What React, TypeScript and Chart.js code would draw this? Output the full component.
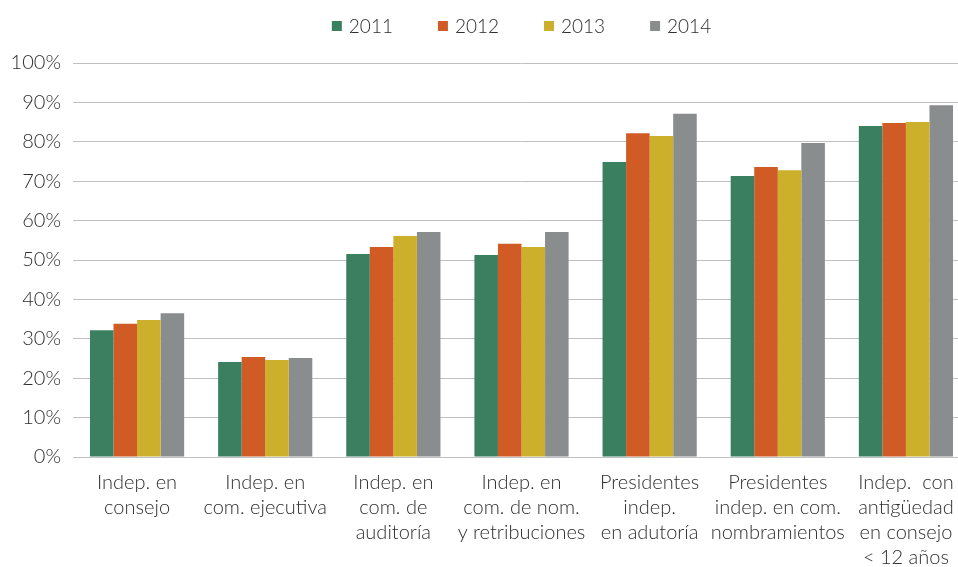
import React, { useEffect, useRef } from "react";
import { Chart, registerables } from "chart.js";

Chart.register(...registerables);

const categories: string[][] = [
  ["Indep. en", "consejo"],
  ["Indep. en", "com. ejecutiva"],
  ["Indep. en", "com. de", "auditoría"],
  ["Indep. en", "com. de nom.", "y retribuciones"],
  ["Presidentes", "indep.", "en adutoría"],
  ["Presidentes", "indep. en com.", "nombramientos"],
  ["Indep.  con", "antigüedad", "en consejo", "< 12 años"],
];

const seriesNames = ["2011", "2012", "2013", "2014"];
const values2011 = [32.2, 24.1, 51.5, 51.3, 74.9, 71.3, 84.0];
const values2012 = [33.8, 25.4, 53.3, 54.1, 82.2, 73.6, 84.8];
const values2013 = [34.8, 24.6, 56.1, 53.3, 81.5, 72.8, 85.0];
const values2014 = [36.5, 25.1, 57.1, 57.1, 87.1, 79.7, 89.3];
const seriesColors = ["#3a7f5f", "#d05b25", "#ccb02c", "#8a8d8d"];
const yTicks = [0, 10, 20, 30, 40, 50, 60, 70, 80, 90, 100];

const FONT = "Lato, 'Open Sans', sans-serif";
const TEXT = "#2e2e2e";

const legendPlugin = {
  id: "topLegend",
  afterDraw(chart: any) {
    const { ctx, chartArea } = chart;
    ctx.save();
    ctx.font = `300 19px ${FONT}`;
    ctx.textBaseline = "middle";
    const box = 10;
    const gap = 7;
    const spacing = 45;
    const items = chart.data.datasets.map((d: any) => ({
      label: d.label,
      color: d.backgroundColor,
      w: box + gap + ctx.measureText(d.label).width,
    }));
    const total = items.reduce((s: number, it: any) => s + it.w, 0) + spacing * (items.length - 1);
    let x = (chartArea.left + chartArea.right) / 2 - total / 2;
    const y = 26;
    items.forEach((it: any) => {
      ctx.fillStyle = it.color;
      ctx.fillRect(x, y - box / 2, box, box);
      ctx.fillStyle = TEXT;
      ctx.textAlign = "left";
      ctx.fillText(it.label, x + box + gap, y + 1);
      x += it.w + spacing;
    });
    ctx.restore();
  },
};

export default function App() {
  const ref = useRef<HTMLCanvasElement | null>(null);

  useEffect(() => {
    document.body.style.margin = "0";
    document.body.style.overflow = "hidden";
    if (!ref.current) return;
    const allValues = [values2011, values2012, values2013, values2014];
    const chart = new Chart(ref.current, {
      type: "bar",
      data: {
        labels: categories,
        datasets: seriesNames.map((name, i) => ({
          label: name,
          data: allValues[i],
          backgroundColor: seriesColors[i],
          borderWidth: 0,
          barPercentage: 1,
          categoryPercentage: 0.735,
        })),
      },
      options: {
        animation: false,
        responsive: false,
        maintainAspectRatio: false,
        layout: { padding: { top: 63, left: 0, right: 0, bottom: 0 } },
        plugins: {
          legend: { display: false },
          tooltip: { enabled: false },
        },
        scales: {
          x: {
            grid: { display: false, drawTicks: false },
            border: { display: true, color: "#c0c0c0", width: 1 },
            ticks: {
              color: TEXT,
              font: { family: FONT, size: 20, weight: "300", lineHeight: 1.25 },
              padding: 13,
              maxRotation: 0,
              autoSkip: false,
            },
            afterFit(scale: any) {
              scale.height = 110;
            },
          },
          y: {
            min: 0,
            max: 100,
            afterBuildTicks(scale: any) {
              scale.ticks = yTicks.map((v) => ({ value: v }));
            },
            grid: { color: "#c0c0c0", lineWidth: 1, drawTicks: false },
            border: { display: false },
            ticks: {
              color: TEXT,
              font: { family: FONT, size: 20, weight: "300" },
              padding: 12,
              callback: (v: any) => `${v}%`,
            },
            afterFit(scale: any) {
              scale.width = 73;
            },
          },
        },
      },
      plugins: [legendPlugin],
    });
    return () => chart.destroy();
  }, []);

  return (
    <div style={{ width: 958, height: 567, overflow: "hidden", position: "relative" }}>
      <canvas ref={ref} width={970} height={567} style={{ display: "block", width: 970, height: 567 }} />
    </div>
  );
}
